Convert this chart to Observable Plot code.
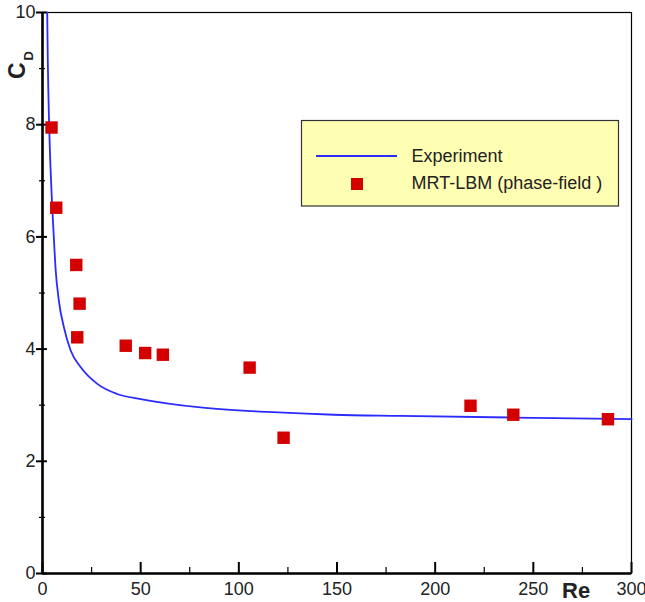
<!DOCTYPE html>
<html>
<head>
<meta charset="utf-8">
<script src="https://cdn.jsdelivr.net/npm/d3@7"></script>
<script src="https://cdn.jsdelivr.net/npm/@observablehq/plot@0.6"></script>
<style>
  html, body { margin: 0; padding: 0; background: white; }
  #chart { position: relative; width: 645px; height: 602px; }
</style>
</head>
<body>
<div id="chart"></div>
<script>
// Experiment curve
const expRe = [2.4, 2.7, 3.4, 4.8, 5.6, 6.6, 8.3, 10.9, 14.3, 19.4, 27.9, 38, 50, 80.5, 114.5, 148.4, 182.4, 239.4, 300];
const expCd = [10, 9.14, 7.97, 6.65, 6.10, 5.46, 4.87, 4.39, 3.98, 3.68, 3.38, 3.20, 3.11, 2.96, 2.88, 2.83, 2.81, 2.78, 2.75];

// MRT-LBM (phase-field) points
const lbmRe = [4.6, 7.0, 17.2, 18.9, 17.7, 42.4, 52.3, 61.3, 105.5, 122.8, 218, 239.8, 288];
const lbmCd = [7.95, 6.52, 5.50, 4.81, 4.21, 4.06, 3.93, 3.90, 3.67, 2.42, 2.99, 2.83, 2.75];

// Ticks
const majorX = [0, 50, 100, 150, 200, 250, 300];
const minorX = [25, 75, 125, 175, 225, 275];
const majorY = [0, 2, 4, 6, 8, 10];
const minorY = [1, 3, 5, 7, 9];

const legendLabels = ["Experiment", "MRT-LBM (phase-field )"];
const xTitle = "Re";
const yTitleMain = "C";
const yTitleSub = "D";

const lineColor = "#2b2bff";
const dotColor = "#d40000";

const expData = expRe.map((r, i) => ({re: r, cd: expCd[i]}));
const lbmData = lbmRe.map((r, i) => ({re: r, cd: lbmCd[i]}));

const chart = Plot.plot({
  width: 645,
  height: 602,
  marginLeft: 42,
  marginRight: 14,
  marginTop: 12,
  marginBottom: 29,
  style: {fontFamily: "'Liberation Sans', Arial, Helvetica, sans-serif", fontSize: "18px", color: "#222", background: "white"},
  x: {domain: [0, 300], ticks: majorX, tickSize: 0, tickPadding: 9, label: null},
  y: {domain: [0, 10], ticks: majorY, tickSize: 0, tickPadding: 7, label: null},
  marks: [
    Plot.frame({stroke: "black", strokeWidth: 1.2}),
    Plot.ruleX(majorX, {x: d => d, y1: () => 0, y2: () => 0, insetBottom: 11, stroke: "black", strokeWidth: 2}),
    Plot.ruleX(minorX, {x: d => d, y1: () => 0, y2: () => 0, insetBottom: 6, stroke: "black", strokeWidth: 1.2}),
    Plot.ruleY(majorY, {y: d => d, x1: () => 0, x2: () => 0, insetLeft: -6, insetRight: -5, stroke: "black", strokeWidth: 2}),
    Plot.ruleY(minorY, {y: d => d, x1: () => 0, x2: () => 0, insetLeft: -3, insetRight: -3, stroke: "black", strokeWidth: 1.2}),
    Plot.ruleX([0], {stroke: "black", strokeWidth: 2.6}),
    Plot.ruleY([0], {stroke: "black", strokeWidth: 2.6}),
    Plot.line(expData, {x: "re", y: "cd", stroke: lineColor, strokeWidth: 1.8, curve: "monotone-x"}),
    Plot.dot(lbmData, {x: "re", y: "cd", symbol: "square", r: 7, fill: dotColor, stroke: "none"})
  ]
});

document.getElementById("chart").appendChild(chart);

// Annotations: axis titles and legend
const svg = d3.select(chart);
const g = svg.append("g")
  .attr("font-family", "'Liberation Sans', Arial, Helvetica, sans-serif")
  .attr("text-anchor", "start");

g.append("text").attr("x", 562).attr("y", 598).attr("font-size", 22).attr("font-weight", "bold")
  .attr("text-anchor", "start").attr("fill", "#222").text(xTitle);

const yt = g.append("text").attr("transform", "translate(25,79) rotate(-90)")
  .attr("text-anchor", "start").attr("font-weight", "bold").attr("fill", "#222");
yt.append("tspan").attr("font-size", 23).text(yTitleMain);
yt.append("tspan").attr("font-size", 13).attr("dx", 2).attr("dy", 8).text(yTitleSub);

// Legend
const lg = g.append("g");
lg.append("rect").attr("x", 301.5).attr("y", 120.5).attr("width", 317).attr("height", 85.5)
  .attr("fill", "#ffffb4").attr("stroke", "#333").attr("stroke-width", 1.2);
lg.append("line").attr("x1", 316).attr("x2", 397).attr("y1", 156).attr("y2", 156)
  .attr("stroke", lineColor).attr("stroke-width", 2);
lg.append("rect").attr("x", 351).attr("y", 178).attr("width", 12).attr("height", 12).attr("fill", dotColor);
lg.append("text").attr("x", 411.5).attr("y", 162).attr("font-size", 18).attr("text-anchor", "start")
  .attr("fill", "#222").text(legendLabels[0]);
lg.append("text").attr("x", 411.5).attr("y", 189).attr("font-size", 18).attr("text-anchor", "start")
  .attr("fill", "#222").text(legendLabels[1]);
</script>
</body>
</html>
